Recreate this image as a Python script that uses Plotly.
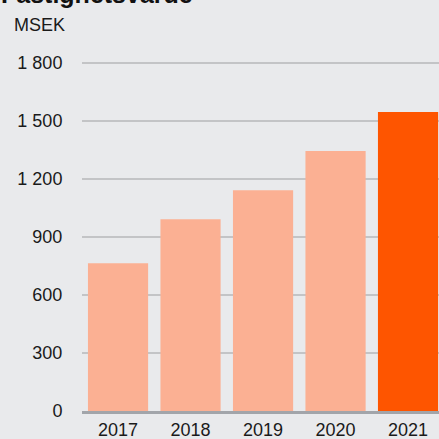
import plotly.graph_objects as go

# Fastighetsvärde per år (MSEK)
years = ["2017", "2018", "2019", "2020", "2021"]
values = [764, 992, 1142, 1344, 1546]
bar_colors = ["#fbb093", "#fbb093", "#fbb093", "#fbb093", "#fe5500"]
y_ticks = [0, 300, 600, 900, 1200, 1500, 1800]
y_tick_text = ["0", "300", "600", "900", "1 200", "1 500", "1 800"]

bg = "#e9eaec"
font_family = "Liberation Sans, Arial, sans-serif"

fig = go.Figure(
    go.Bar(
        x=years,
        y=values,
        marker=dict(color=bar_colors, line=dict(width=0)),
        hoverinfo="skip",
    )
)

fig.update_layout(
    width=439,
    height=439,
    margin=dict(l=82, r=0, t=61, b=28, pad=0, autoexpand=False),
    paper_bgcolor=bg,
    plot_bgcolor=bg,
    bargap=0.17,
    showlegend=False,
    font=dict(family=font_family, size=18, color="#1a1a1a"),
)

fig.update_xaxes(
    type="category",
    range=[-0.497, 4.427],
    automargin=False,
    showgrid=False,
    showline=True,
    linecolor="#a2a5aa",
    linewidth=2.5,
    ticks="outside",
    ticklen=1,
    tickcolor="rgba(0,0,0,0)",
    tickfont=dict(size=18),
    fixedrange=True,
)

fig.update_yaxes(
    range=[0, 1810],
    automargin=False,
    tickvals=y_ticks,
    ticktext=y_tick_text,
    showgrid=True,
    gridcolor="#c3c4c6",
    gridwidth=2,
    zeroline=False,
    showline=False,
    ticks="outside",
    ticklen=15,
    tickcolor="rgba(0,0,0,0)",
    tickfont=dict(size=18),
    fixedrange=True,
)

fig.add_annotation(
    text="<b>Fastighetsvärde</b>",
    xref="paper", yref="paper",
    x=-82 / 357 - 0.004, y=1.145,
    xanchor="left", yanchor="bottom",
    showarrow=False,
    font=dict(size=25, color="#111111"),
)

fig.add_annotation(
    text="MSEK",
    xref="paper", yref="paper",
    x=-70 / 357, y=(411 - 25) / 350,
    xanchor="left", yanchor="middle",
    showarrow=False,
    font=dict(size=18, color="#1a1a1a"),
)

fig.write_html("out.html")
